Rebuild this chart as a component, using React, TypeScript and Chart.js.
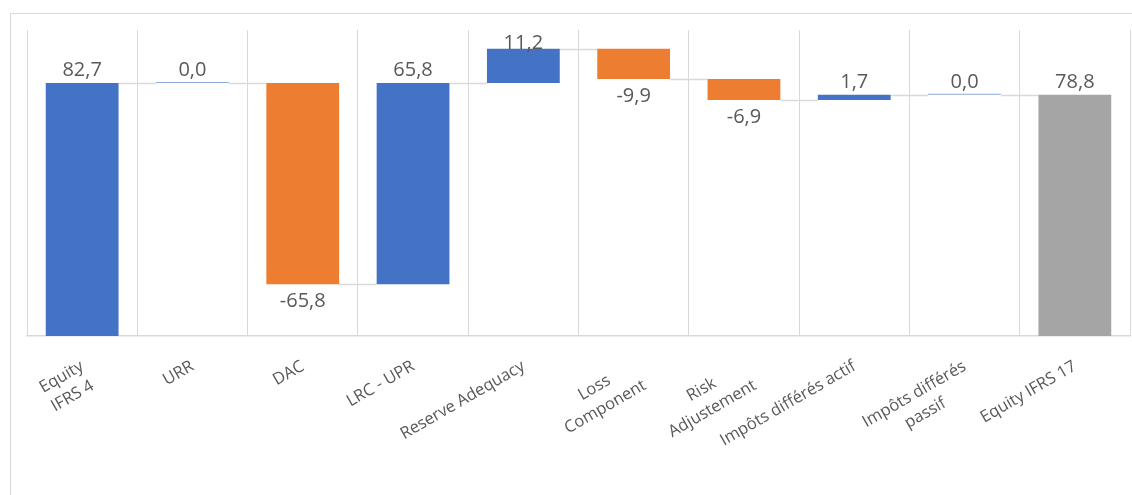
import React, { useEffect, useRef } from 'react';
import { Chart, registerables } from 'chart.js';

Chart.register(...registerables);

// ---- data ----
const categoryLabels: string[][] = [
  ['Equity', 'IFRS 4'],
  ['URR'],
  ['DAC'],
  ['LRC - UPR'],
  ['Reserve Adequacy'],
  ['Loss', 'Component'],
  ['Risk', 'Adjustement'],
  ['Impôts différés actif'],
  ['Impôts différés', 'passif'],
  ['Equity IFRS 17'],
];
const deltaValues: number[] = [82.7, 0.0, -65.8, 65.8, 11.2, -9.9, -6.9, 1.7, 0.0, 78.8];
const totalFlags: boolean[] = [false, false, false, false, false, false, false, false, false, true];
const yAxisMin = 0;
const yAxisMax = 100;

const COLOR_UP = '#4472C4';
const COLOR_UP_ZERO = '#8FAADC';
const COLOR_DOWN = '#ED7D31';
const COLOR_TOTAL = '#A5A5A5';
const TEXT_COLOR = '#595959';
const GRID_COLOR = '#D9D9D9';
const FONT = '"Open Sans", "Noto Sans", sans-serif';

function buildRanges() {
  let running = 0;
  const ranges: [number, number][] = [];
  const ends: number[] = [];
  deltaValues.forEach((v, i) => {
    if (totalFlags[i]) {
      ranges.push([0, v]);
      running = v;
    } else {
      ranges.push([running, running + v]);
      running += v;
    }
    ends.push(running);
  });
  return { ranges, ends };
}

const fmt = (v: number) => v.toFixed(1).replace('.', ',');

export default function App() {
  const canvasRef = useRef<HTMLCanvasElement | null>(null);

  useEffect(() => {
    if (!canvasRef.current) return;
    const { ranges, ends } = buildRanges();
    const colors = deltaValues.map((v, i) =>
      totalFlags[i] ? COLOR_TOTAL : v === 0 ? COLOR_UP_ZERO : v > 0 ? COLOR_UP : COLOR_DOWN
    );

    const framePlugin = {
      id: 'frame',
      beforeDraw(chart: any) {
        const ctx = chart.ctx;
        ctx.save();
        ctx.fillStyle = '#ffffff';
        ctx.fillRect(0, 0, chart.width, chart.height);
        ctx.strokeStyle = GRID_COLOR;
        ctx.lineWidth = 1;
        ctx.strokeRect(10.5, 13.5, chart.width + 20, chart.height + 20);
        ctx.restore();
      },
    };

    const connectorPlugin = {
      id: 'connectors',
      beforeDatasetsDraw(chart: any) {
        const ctx = chart.ctx;
        const meta = chart.getDatasetMeta(0);
        const y = chart.scales.y;
        ctx.save();
        ctx.strokeStyle = GRID_COLOR;
        ctx.lineWidth = 1.5;
        for (let i = 0; i < meta.data.length - 1; i++) {
          const a = meta.data[i];
          const b = meta.data[i + 1];
          const py = Math.round(y.getPixelForValue(ends[i])) + 0.5;
          ctx.beginPath();
          ctx.moveTo(a.x + a.width / 2, py);
          ctx.lineTo(b.x - b.width / 2, py);
          ctx.stroke();
        }
        ctx.restore();
      },
    };

    const valueLabelPlugin = {
      id: 'valueLabels',
      afterDatasetsDraw(chart: any) {
        const ctx = chart.ctx;
        const meta = chart.getDatasetMeta(0);
        const y = chart.scales.y;
        const top = chart.chartArea.top;
        ctx.save();
        ctx.font = `20px ${FONT}`;
        ctx.fillStyle = TEXT_COLOR;
        ctx.textAlign = 'center';
        ctx.textBaseline = 'middle';
        meta.data.forEach((bar: any, i: number) => {
          const v = deltaValues[i];
          const [s, e] = ranges[i];
          if (v >= 0) {
            const py = y.getPixelForValue(Math.max(s, e));
            ctx.fillText(fmt(v), bar.x, Math.max(py - 13, top + 13));
          } else {
            const py = y.getPixelForValue(Math.min(s, e));
            ctx.fillText(fmt(v), bar.x, py + 17);
          }
        });
        ctx.restore();
      },
    };

    const categoryLabelPlugin = {
      id: 'categoryLabels',
      afterDraw(chart: any) {
        const ctx = chart.ctx;
        const x = chart.scales.x;
        const baseY = chart.chartArea.bottom;
        const angle = -30 * Math.PI / 180;
        const lineH = 22;
        ctx.save();
        ctx.font = `16.5px ${FONT}`;
        ctx.fillStyle = TEXT_COLOR;
        ctx.textBaseline = 'top';
        ctx.textAlign = 'center';
        categoryLabels.forEach((lines, i) => {
          const px = x.getPixelForValue(i);
          const w = Math.max(...lines.map((l) => ctx.measureText(l).width));
          ctx.save();
          ctx.translate(px - 4, baseY + 22);
          ctx.rotate(angle);
          lines.forEach((l, j) => {
            ctx.fillText(l, -w / 2, j * lineH);
          });
          ctx.restore();
        });
        ctx.restore();
      },
    };

    const chart = new Chart(canvasRef.current, {
      type: 'bar',
      data: {
        labels: categoryLabels.map((l) => l.join(' ')),
        datasets: [
          {
            data: ranges as any,
            backgroundColor: colors,
            borderWidth: 0,
            minBarLength: 1,
            categoryPercentage: 1,
            barPercentage: 0.66,
          },
        ],
      },
      options: {
        responsive: true,
        maintainAspectRatio: false,
        animation: false,
        layout: { padding: { left: 27, right: 2, top: 30, bottom: 159 } },
        plugins: { legend: { display: false }, tooltip: { enabled: false } },
        scales: {
          x: {
            grid: { color: GRID_COLOR, lineWidth: 1, drawTicks: false, offset: true },
            border: { color: GRID_COLOR, width: 1.5 },
            ticks: { display: false },
          },
          y: { display: false, min: yAxisMin, max: yAxisMax },
        },
      },
      plugins: [framePlugin, connectorPlugin, valueLabelPlugin, categoryLabelPlugin],
    });
    return () => chart.destroy();
  }, []);

  return (
    <div style={{ position: 'absolute', left: 0, top: 0, width: 1132, height: 495 }}>
      <canvas ref={canvasRef} />
    </div>
  );
}
